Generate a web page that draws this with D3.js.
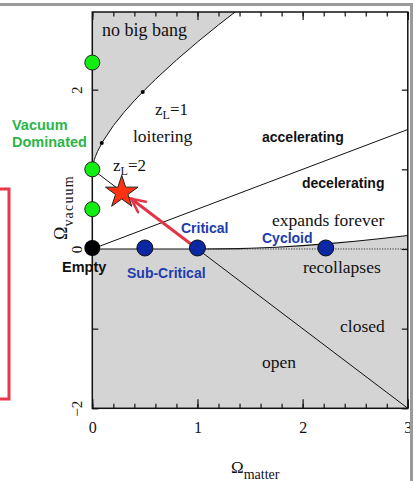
<!DOCTYPE html>
<html><head><meta charset="utf-8">
<script src="https://cdn.jsdelivr.net/npm/d3@7"></script>
<style>
body{margin:0;background:#fff;}
svg{display:block;}
</style></head><body>
<svg id="chart" width="414" height="481"></svg>
<script>
// Ω_matter – Ω_vacuum plane of Friedmann models

// axis ticks
const xMinorTicks = [0,0.2,0.4,0.6,0.8,1,1.2,1.4,1.6,1.8,2,2.2,2.4,2.6,2.8,3];
const xMajorTicks = [0,1,2,3];
const xTickLabels = ["0","1","2","3"];
const yMajorTicks = [-2,-1,0,1,2];
const yTickLabels = ["−2","","0","","2"];

// boundary of the "no big bang" region  [Ω_matter, Ω_vacuum]
const noBigBangCurve = [[0,1.0],[0.005,1.05],[0.01,1.08],[0.02,1.124],[0.03,1.162],[0.05,1.225],[0.1,1.35],[0.2,1.548],[0.3,1.713],[0.4,1.862],[0.5,2.0],[0.6,2.129],[0.8,2.372],[1.0,2.598],[1.2,2.813],[1.4,3.018]];
// boundary between expanding forever and recollapsing
const recollapseCurve = [[0,0],[1.0,0],[1.2,0.001],[1.4,0.005],[1.5,0.009],[1.75,0.022],[2.0,0.042],[2.25,0.067],[2.5,0.097],[2.75,0.131],[3.0,0.169]];
const zeroVacuumLine = [[1,0],[3,0]];
// accelerating / decelerating divide, and the flat (open/closed) line
const accelLine = [[0,0],[3,1.5]];
const flatLine = [[0,1],[3,-2]];

// marked models
const vacuumModels = [[0,0.5],[0,1],[0,2.34]];
const matterModels = [[0.5,0],[1,0],[2.22,0]];
const emptyModel = [[0,0]];
const loiterPoints = [[0.09,1.33],[0.48,1.97]];
const concordance = [0.28,0.71];
const arrowFrom = [1,0];
const arrowTip = [0.37,0.63];

const svg = d3.select("#chart");
const L = 92.3, R = 407.8, T = 12, B = 408.3;
const x = d3.scaleLinear().domain([0,3]).range([L,R]);
const y = d3.scaleLinear().domain([-2,2.975]).range([B,T]);
const line = d3.line().x(d => x(d[0])).y(d => y(d[1]));

const SERIF = "'Liberation Serif','DejaVu Serif',serif";
const SANS = "'Liberation Sans',Arial,sans-serif";

svg.append("defs").append("clipPath").attr("id","plot")
  .append("rect").attr("x",L).attr("y",T).attr("width",R-L).attr("height",B-T);

const plot = svg.append("g").attr("clip-path","url(#plot)");

// shaded regions
plot.append("path")
  .attr("d", line(recollapseCurve.concat([[3,-2.2],[0,-2.2]])) + "Z")
  .attr("fill","#d4d4d4");
plot.append("path")
  .attr("d", line(noBigBangCurve.concat([[0,3.2]])) + "Z")
  .attr("fill","#d4d4d4");

// boundary lines
plot.append("path").attr("d", line(noBigBangCurve)).attr("fill","none").attr("stroke","#111").attr("stroke-width",1);
plot.append("path").attr("d", line(recollapseCurve)).attr("fill","none").attr("stroke","#111").attr("stroke-width",1.1);
plot.append("path").attr("d", line(zeroVacuumLine)).attr("fill","none").attr("stroke","#333").attr("stroke-width",1).attr("stroke-dasharray","1.2,1.4");
plot.append("path").attr("d", line(accelLine)).attr("fill","none").attr("stroke","#111").attr("stroke-width",1);
plot.append("path").attr("d", line(flatLine)).attr("fill","none").attr("stroke","#111").attr("stroke-width",1);

// loitering markers
plot.selectAll(".loiter").data(loiterPoints).join("circle")
  .attr("cx", d => x(d[0])).attr("cy", d => y(d[1])).attr("r",2).attr("fill","#000");

// axes with inward ticks
function styleAxis(g){
  g.select(".domain").remove();
  g.selectAll(".tick line").attr("stroke","#111").attr("stroke-width",1.2);
}
svg.append("g").attr("transform",`translate(0,${B})`)
  .call(d3.axisBottom(x).tickValues(xMinorTicks).tickSize(-4.5).tickFormat(""))
  .call(styleAxis);
svg.append("g").attr("transform",`translate(0,${B})`)
  .call(d3.axisBottom(x).tickValues(xMajorTicks).tickSize(-9).tickPadding(13).tickFormat((d,i)=>xTickLabels[i]))
  .call(styleAxis)
  .call(g => g.selectAll("text").attr("font-family",SERIF).attr("font-size",16).attr("fill","#111"));
svg.append("g").attr("transform",`translate(0,${T})`)
  .call(d3.axisTop(x).tickValues(xMinorTicks).tickSize(-4.5).tickFormat(""))
  .call(styleAxis);
svg.append("g").attr("transform",`translate(0,${T})`)
  .call(d3.axisTop(x).tickValues(xMajorTicks).tickSize(-8).tickFormat(""))
  .call(styleAxis);
svg.append("g").attr("transform",`translate(${L},0)`)
  .call(d3.axisLeft(y).tickValues(yMajorTicks).tickSize(-6).tickFormat((d,i)=>yTickLabels[i]))
  .call(styleAxis)
  .call(g => g.selectAll("text")
    .attr("font-family",SERIF).attr("font-size",15).attr("fill","#111")
    .attr("x",null).attr("dy",null).attr("text-anchor","middle")
    .attr("transform","translate(-10,0) rotate(-90)"));
svg.append("g").attr("transform",`translate(${R},0)`)
  .call(d3.axisRight(y).tickValues(yMajorTicks).tickSize(-6).tickFormat(""))
  .call(styleAxis);

// plot frame
svg.append("rect").attr("x",L).attr("y",T).attr("width",R-L).attr("height",B-T)
  .attr("fill","none").attr("stroke","#111").attr("stroke-width",1.5);

// red arrow toward the concordance model
const ax0 = x(arrowFrom[0]), ay0 = y(arrowFrom[1]);
const ax1 = x(arrowTip[0]), ay1 = y(arrowTip[1]);
const ang = Math.atan2(ay0-ay1, ax0-ax1);
const head = 15, spread = 0.45;
const arrowG = svg.append("g").attr("stroke","#e23545").attr("fill","none").attr("stroke-linecap","round");
arrowG.append("line").attr("x1",ax0).attr("y1",ay0).attr("x2",ax1).attr("y2",ay1).attr("stroke-width",3);
arrowG.append("path").attr("stroke-width",2.5)
  .attr("d", `M${ax1+head*Math.cos(ang-spread)},${ay1+head*Math.sin(ang-spread)}L${ax1},${ay1}L${ax1+head*Math.cos(ang+spread)},${ay1+head*Math.sin(ang+spread)}`);

// star
svg.append("path")
  .attr("d", d3.symbol(d3.symbolStar, 330)())
  .attr("transform",`translate(${x(concordance[0])},${y(concordance[1])})`)
  .attr("fill","#ff3312").attr("stroke","#222").attr("stroke-width",1);

// model dots
svg.selectAll(".vac").data(vacuumModels).join("circle")
  .attr("cx",d=>x(d[0])).attr("cy",d=>y(d[1])).attr("r",7.5)
  .attr("fill","#11ee11").attr("stroke","#222").attr("stroke-width",1);
svg.selectAll(".mat").data(matterModels).join("circle")
  .attr("cx",d=>x(d[0])).attr("cy",d=>y(d[1])-1).attr("r",8)
  .attr("fill","#0b27a3").attr("stroke","#111").attr("stroke-width",1);
svg.selectAll(".emp").data(emptyModel).join("circle")
  .attr("cx",d=>x(d[0])).attr("cy",d=>y(d[1])-1).attr("r",8)
  .attr("fill","#000");

// serif region labels
function serif(txt, px, py, size){
  return svg.append("text").attr("x",px).attr("y",py).attr("font-family",SERIF)
    .attr("font-size",size||17.5).attr("fill","#111").text(txt);
}
serif("no big bang",102,36,18);
serif("loitering",133,142);
serif("expands forever",272,226);
serif("recollapses",303,273);
serif("closed",340,332);
serif("open",262,368);

function zLabel(px, py, val){
  const t = svg.append("text").attr("x",px).attr("y",py).attr("font-family",SERIF)
    .attr("font-size",17).attr("fill","#111");
  t.append("tspan").text("z");
  t.append("tspan").attr("font-size",12).attr("dy",4).text("L");
  t.append("tspan").attr("dy",-4).text("=" + val);
}
zLabel(155,115,"1");
zLabel(113,171,"2");

// bold sans labels
function sans(txt, px, py, color, size){
  return svg.append("text").attr("x",px).attr("y",py).attr("font-family",SANS)
    .attr("font-weight","bold").attr("font-size",size||14).attr("fill",color).text(txt);
}
sans("accelerating",262,142,"#111");
sans("decelerating",302,188,"#111");
sans("Critical",181,233,"#1c3cae");
sans("Cycloid",262,243,"#1c3cae");
sans("Sub-Critical",127,278,"#1c3cae");
sans("Empty",62,272,"#111",14.5);
sans("Vacuum",12,130,"#2cb548",14.5);
sans("Dominated",12,147,"#2cb548",14.5);

// axis titles
const xt = svg.append("text").attr("x",231).attr("y",473).attr("font-family",SERIF)
  .attr("font-size",17).attr("fill","#111");
xt.append("tspan").text("Ω");
xt.append("tspan").attr("font-size",14).attr("dy",6).text("matter");

const yt = svg.append("text").attr("transform","translate(67,240) rotate(-90)")
  .attr("font-family",SERIF).attr("font-size",18).attr("fill","#111");
yt.append("tspan").text("Ω");
yt.append("tspan").attr("font-size",14).attr("dy",6).attr("letter-spacing",1.2).text("vacuum");

// outer page frame and side box
svg.append("line").attr("x1",0).attr("x2",413).attr("y1",4.5).attr("y2",4.5)
  .attr("stroke","#9a9a9a").attr("stroke-width",3);
svg.append("line").attr("x1",411.5).attr("x2",411.5).attr("y1",3).attr("y2",481)
  .attr("stroke","#9a9a9a").attr("stroke-width",3);
svg.append("rect").attr("x",-20).attr("y",189).attr("width",29).attr("height",210)
  .attr("fill","none").attr("stroke","#e8384a").attr("stroke-width",3);
</script>
</body></html>
